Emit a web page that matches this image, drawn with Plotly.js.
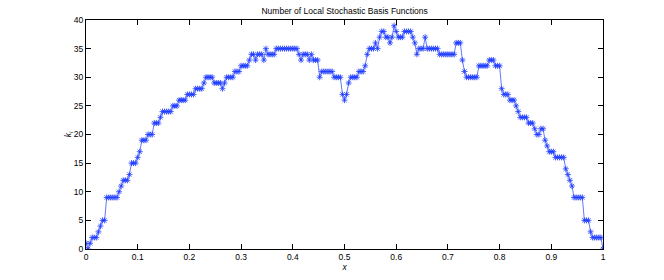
<!DOCTYPE html>
<html>
<head>
<meta charset="utf-8">
<script src="https://cdn.plot.ly/plotly-3.0.1.min.js"></script>
<style>html,body{margin:0;padding:0;background:#fff;}#chart{width:664px;height:280px;}</style>
</head>
<body>
<div id="chart"></div>
<script>
// Sampling step along x (domain 0..1)
const xStep = 0.004;
// Number of local stochastic basis functions k_i at each x
const kValues = [
  1, 0, 1, 2, 2, 2, 3, 4, 5, 5,
  9, 9, 9, 9, 9, 9, 10, 11, 12, 12,
  12, 13, 15, 15, 15, 16, 17, 19, 19, 19,
  20, 20, 20, 22, 22, 22, 23, 24, 24, 24,
  24, 24, 25, 25, 25, 26, 26, 26, 26, 27,
  27, 27, 27, 28, 28, 28, 28, 29, 30, 30,
  30, 30, 29, 29, 29, 29, 28, 29, 30, 30,
  30, 30, 31, 31, 31, 32, 32, 32, 32, 33,
  34, 34, 33, 34, 34, 34, 33, 35, 34, 34,
  34, 34, 35, 35, 35, 35, 35, 35, 35, 35,
  35, 35, 35, 34, 33, 34, 34, 34, 33, 34,
  33, 33, 33, 30, 31, 31, 31, 31, 31, 31,
  30, 30, 30, 30, 27, 26, 27, 29, 30, 30,
  30, 30, 31, 31, 31, 32, 34, 35, 35, 35,
  36, 35, 37, 38, 38, 37, 37, 36, 37, 39,
  38, 37, 37, 37, 38, 38, 38, 38, 37, 36,
  34, 35, 35, 35, 37, 35, 35, 35, 35, 35,
  35, 34, 34, 34, 34, 34, 34, 34, 34, 36,
  36, 36, 33, 31, 30, 30, 30, 30, 30, 30,
  32, 32, 32, 32, 32, 33, 33, 33, 32, 32,
  32, 28, 27, 27, 27, 26, 26, 26, 25, 24,
  23, 23, 23, 23, 22, 22, 22, 21, 20, 20,
  21, 21, 19, 18, 17, 17, 17, 16, 16, 16,
  16, 16, 14, 13, 12, 11, 9, 9, 9, 9,
  9, 5, 5, 5, 3, 2, 2, 2, 2, 2,
  0
];
const xValues = kValues.map((_, i) => +(i * xStep).toFixed(3));
const xTicks = [0, 0.1, 0.2, 0.3, 0.4, 0.5, 0.6, 0.7, 0.8, 0.9, 1];
const xTickLabels = ['0', '0.1', '0.2', '0.3', '0.4', '0.5', '0.6', '0.7', '0.8', '0.9', '1'];
const yTicks = [0, 5, 10, 15, 20, 25, 30, 35, 40];
const chartTitle = 'Number of Local Stochastic Basis Functions';

const font = {family: 'Liberation Sans, Arial, sans-serif', size: 8.5, color: '#000'};
const axisCommon = {
  showline: true, linecolor: '#000', linewidth: 1, mirror: 'ticks',
  ticks: 'inside', ticklen: 5, tickcolor: '#000', tickwidth: 1,
  showgrid: false, zeroline: false, tickfont: font
};

Plotly.newPlot('chart', [{
  x: xValues, y: kValues, type: 'scatter', mode: 'lines+markers',
  line: {color: '#1f3cff', width: 0.7},
  marker: {symbol: 'asterisk-open', size: 5, color: '#1f3cff', line: {color: '#1f3cff', width: 0.8}},
  hoverinfo: 'skip'
}], {
  width: 664, height: 280,
  margin: {l: 86, r: 61, t: 20, b: 31, pad: 0},
  paper_bgcolor: '#fff', plot_bgcolor: '#fff',
  showlegend: false, font: font,
  title: {text: chartTitle, font: font, x: 0.519, xanchor: 'center', y: 0.96, yanchor: 'middle'},
  xaxis: Object.assign({}, axisCommon, {
    range: [0, 1], tickvals: xTicks, ticktext: xTickLabels,
    title: {text: '<i>x</i>', font: font, standoff: 1}
  }),
  yaxis: Object.assign({}, axisCommon, {
    range: [0, 40], tickvals: yTicks,
    title: {text: '<i>k<sub>i</sub></i>', font: font, standoff: 0}
  })
}, {staticPlot: true});
</script>
</body>
</html>
